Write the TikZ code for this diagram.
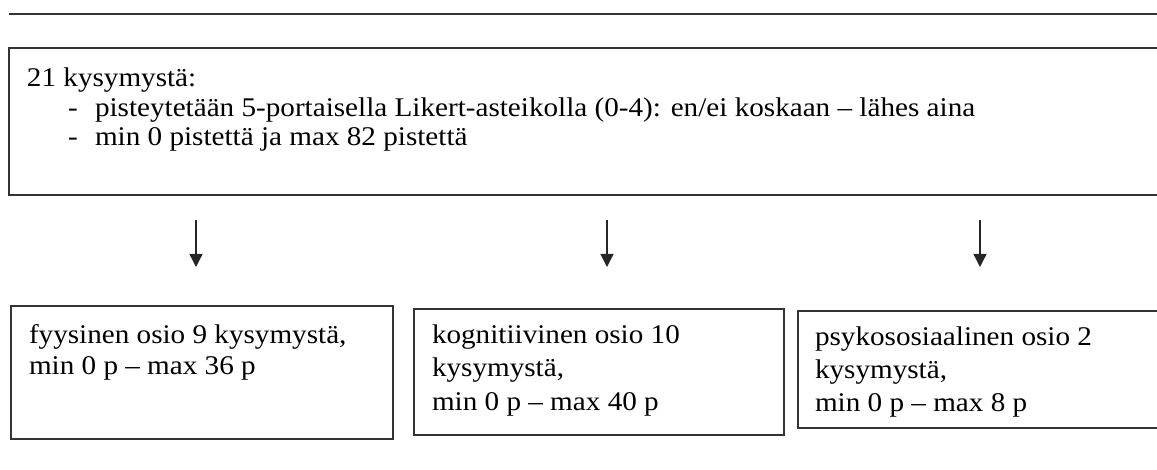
\documentclass[tikz,border=0pt]{standalone}
\usepackage{fontspec}
\setmainfont{Liberation Serif}[FakeStretch=1.08]
\usetikzlibrary{arrows.meta}
\begin{document}
\begin{tikzpicture}[x=1pt,y=-1pt,
  frame/.style={draw=black!80, line width=1.1pt, inner sep=0pt, outer sep=0pt, anchor=north west},
  txt/.style={anchor=base west, inner sep=0pt, outer sep=0pt, font=\fontsize{27}{30}\selectfont},
  arr/.style={draw=black!85, line width=1.3pt, -{Triangle[width=13pt,length=13pt]}}]
\useasboundingbox (0,0) rectangle (1157,470);
\clip (0,0) rectangle (1157,470);
% rule at the top
\coordinate (rl) at (9,14);
\coordinate (rr) at (1175,14);
\draw[line width=1.1pt, black!80] (rl) -- (rr);
% boxes
\node[frame, minimum width=1166pt, minimum height=147pt] (top) at (9,48) {};
\node[frame, minimum width=382pt, minimum height=133pt] (b1) at (11,306) {};
\node[frame, minimum width=370pt, minimum height=126pt] (b2) at (414,309) {};
\node[frame, minimum width=380pt, minimum height=117pt] (b3) at (798,311) {};
% texts
\node[txt] (t0) at (27,87) {21 kysymystä:};
\node[txt] (d1) at (68,117) {-};
\node[txt] (t1) at (95,117) {pisteytetään 5-portaisella Likert-asteikolla (0-4): en/ei koskaan – lähes aina};
\node[txt] (d2) at (68,146) {-};
\node[txt] (t2) at (95,146) {min 0 pistettä ja max 82 pistettä};
\node[txt] (p1) at (29,344) {fyysinen osio 9 kysymystä,};
\node[txt] (p2) at (29,374) {min 0 p – max 36 p};
\node[txt] (k1) at (432,344) {kognitiivinen osio 10};
\node[txt] (k2) at (432,377) {kysymystä,};
\node[txt] (k3) at (432,410) {min 0 p – max 40 p};
\node[txt] (s1) at (815,345) {psykososiaalinen osio 2};
\node[txt] (s2) at (815,378) {kysymystä,};
\node[txt] (s3) at (815,411) {min 0 p – max 8 p};
% arrows
\coordinate (a1s) at (196,220); \coordinate (a1e) at (196,267);
\coordinate (a2s) at (607,220); \coordinate (a2e) at (607,267);
\coordinate (a3s) at (980,220); \coordinate (a3e) at (980,267);
\draw[arr] (a1s) -- (a1e);
\draw[arr] (a2s) -- (a2e);
\draw[arr] (a3s) -- (a3e);
\end{tikzpicture}
\end{document}
